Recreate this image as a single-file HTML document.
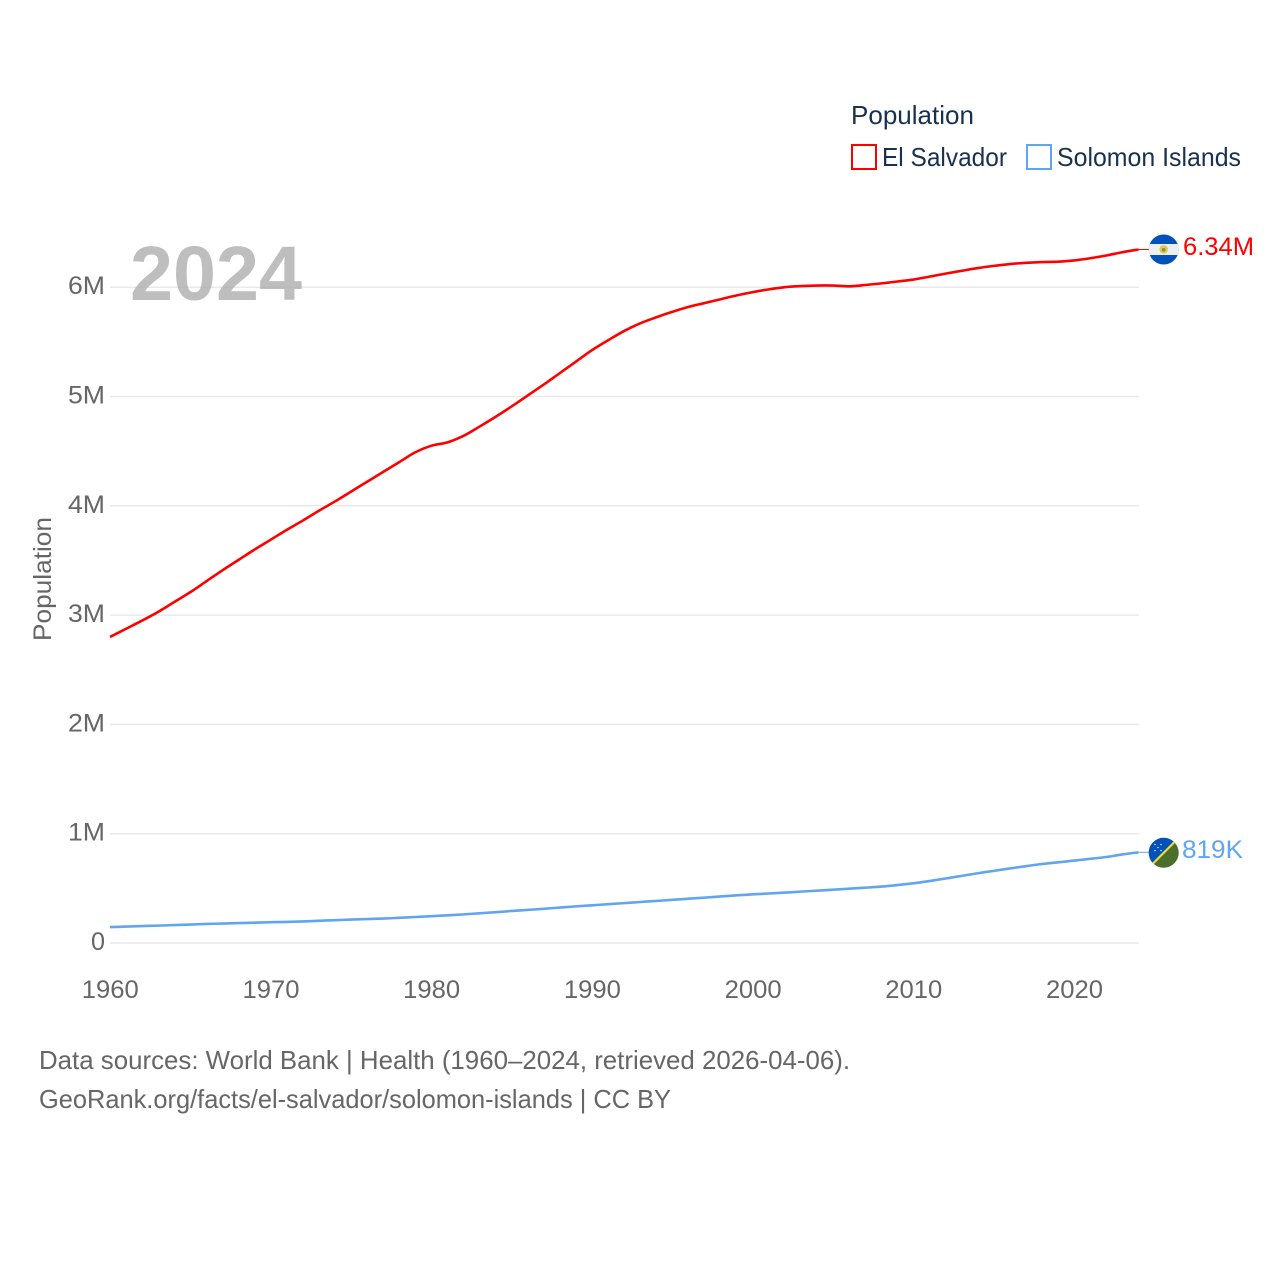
<!DOCTYPE html>
<html lang="en">
<head>
<meta charset="utf-8">
<title>Population: El Salvador and Solomon Islands</title>
<style>
html,body{margin:0;padding:0;background:#fff;width:1280px;height:1280px;overflow:hidden}
svg{display:block}
text{font-family:"Liberation Sans",sans-serif}
</style>
</head>
<body>
<svg id="chart" width="1280" height="1280" viewBox="0 0 1280 1280" xmlns="http://www.w3.org/2000/svg">
  <defs>
    <clipPath id="clip-sv"><circle cx="1163.7" cy="249.5" r="15"/></clipPath>
    <clipPath id="clip-sb"><circle cx="1163.7" cy="852.8" r="15"/></clipPath>
  </defs>
  <g id="grid"></g>
  <g id="y-ticks"></g>
  <g id="x-ticks"></g>
  <text x="130" y="300" font-size="77" font-weight="700" fill="#a8a8a8" fill-opacity="0.75" textLength="172" lengthAdjust="spacingAndGlyphs">2024</text>
  <text transform="translate(51,579) rotate(-90)" text-anchor="middle" font-size="25" fill="#666" textLength="124" lengthAdjust="spacingAndGlyphs">Population</text>
  <g id="series"></g>

  <g clip-path="url(#clip-sv)">
    <rect x="1148" y="234" width="32" height="32" fill="#0051ba"/>
    <rect x="1148" y="244" width="32" height="11" fill="#eeeeee"/>
    <circle cx="1163.7" cy="249.3" r="4.3" fill="#e8c65a"/>
    <circle cx="1163.7" cy="249.8" r="1.9" fill="#7c9c3c"/>
  </g>
  <g clip-path="url(#clip-sb)">
    <rect x="1148" y="837" width="32" height="32" fill="#4c6f2b"/>
    <polygon points="1148.7,837.8 1178.7,837.8 1148.7,867.8" fill="#0051ba"/>
    <line x1="1148.7" y1="867.8" x2="1178.7" y2="837.8" stroke="#f2d93a" stroke-width="2.2"/>
    <g fill="#dfe8f5">
      <circle cx="1155" cy="844.5" r="0.8"/><circle cx="1161" cy="844.5" r="0.8"/>
      <circle cx="1158" cy="847.5" r="0.8"/><circle cx="1155" cy="850.5" r="0.8"/><circle cx="1161" cy="850.5" r="0.8"/>
    </g>
  </g>
  <text x="1183" y="255" font-size="25" fill="#ff0000" textLength="71" lengthAdjust="spacingAndGlyphs">6.34M</text>
  <text x="1182" y="858" font-size="25" fill="#60a5ee" textLength="61" lengthAdjust="spacingAndGlyphs">819K</text>

  <g>
    <text x="851" y="124" font-size="26" fill="#18314f" textLength="123" lengthAdjust="spacingAndGlyphs">Population</text>
    <rect x="852" y="145" width="24" height="24" fill="#fff" stroke="#ff0000" stroke-width="2"/>
    <text x="882" y="166" font-size="26" fill="#18314f" textLength="125" lengthAdjust="spacingAndGlyphs">El Salvador</text>
    <rect x="1027" y="145" width="24" height="24" fill="#fff" stroke="#60a5ee" stroke-width="2"/>
    <text x="1057" y="166" font-size="26" fill="#18314f" textLength="184" lengthAdjust="spacingAndGlyphs">Solomon Islands</text>
  </g>

  <text x="39" y="1069" font-size="26" fill="#666" textLength="811" lengthAdjust="spacingAndGlyphs">Data sources: World Bank | Health (1960–2024, retrieved 2026-04-06).</text>
  <text x="39" y="1108" font-size="26" fill="#666" textLength="632" lengthAdjust="spacingAndGlyphs">GeoRank.org/facts/el-salvador/solomon-islands | CC BY</text>
</svg>
<script>
const startYear = 1960;
const elSalvador = [2.80,2.875,2.95,3.03,3.12,3.21,3.31,3.41,3.505,3.60,3.69,3.78,3.865,3.955,4.04,4.13,4.22,4.31,4.40,4.49,4.55,4.58,4.64,4.725,4.815,4.91,5.01,5.11,5.215,5.32,5.425,5.515,5.60,5.67,5.725,5.775,5.82,5.855,5.89,5.925,5.955,5.98,6.00,6.01,6.015,6.015,6.008,6.02,6.035,6.052,6.07,6.097,6.124,6.15,6.175,6.195,6.212,6.223,6.23,6.233,6.245,6.265,6.29,6.32,6.345];
const solomonIslands = [0.146,0.150,0.155,0.159,0.164,0.169,0.174,0.178,0.182,0.186,0.190,0.193,0.197,0.203,0.209,0.214,0.219,0.224,0.230,0.238,0.245,0.253,0.262,0.272,0.282,0.293,0.303,0.313,0.324,0.335,0.345,0.355,0.365,0.375,0.385,0.395,0.405,0.415,0.426,0.436,0.445,0.453,0.461,0.470,0.479,0.488,0.497,0.506,0.516,0.530,0.546,0.567,0.590,0.614,0.638,0.660,0.682,0.703,0.723,0.738,0.754,0.770,0.787,0.81,0.83];
const yTickValues = [0,1,2,3,4,5,6];
const yTickLabels = ["0","1M","2M","3M","4M","5M","6M"];
const xTickYears = [1960,1970,1980,1990,2000,2010,2020];

const NS = "http://www.w3.org/2000/svg";
function xScale(year){ return 110 + (year - 1960) * 16.07; }
function yScale(v){ return 943 - v * 109.3; }
function make(tag, attrs, parent, content){
  const el = document.createElementNS(NS, tag);
  for (const k in attrs) el.setAttribute(k, attrs[k]);
  if (content !== undefined) el.textContent = content;
  parent.appendChild(el);
  return el;
}
const gridG = document.getElementById("grid");
const yG = document.getElementById("y-ticks");
const xG = document.getElementById("x-ticks");
const seriesG = document.getElementById("series");

yTickValues.forEach(function(v, i){
  const gl = make("line", {x1:110, x2:1139, y1:yScale(v), y2:yScale(v), stroke:"#e9e9e9", "stroke-width":1.5}, gridG);
  
  
  const lab = make("text", {x:105, y:yScale(v)+7, "text-anchor":"end", "font-size":25, fill:"#666", textLength: yTickLabels[i].length > 1 ? 37 : 14, lengthAdjust:"spacingAndGlyphs"}, yG, yTickLabels[i]);
  
  
});
xTickYears.forEach(function(yr){
  const lab = make("text", {x:xScale(yr)+0.3, y:998, "text-anchor":"middle", "font-size":25, fill:"#666", textLength:57, lengthAdjust:"spacingAndGlyphs"}, xG, String(yr));
  
  
});
function linePath(values){
  const pts = values.map(function(v, i){ return [xScale(startYear + i), yScale(v)]; });
  let d = "M" + pts[0][0].toFixed(2) + " " + pts[0][1].toFixed(2);
  for (let i = 0; i < pts.length - 1; i++) {
    const p0 = pts[Math.max(i - 1, 0)], p1 = pts[i], p2 = pts[i + 1], p3 = pts[Math.min(i + 2, pts.length - 1)];
    const c1x = p1[0] + (p2[0] - p0[0]) / 6, c1y = p1[1] + (p2[1] - p0[1]) / 6;
    const c2x = p2[0] - (p3[0] - p1[0]) / 6, c2y = p2[1] - (p3[1] - p1[1]) / 6;
    d += "C" + c1x.toFixed(2) + " " + c1y.toFixed(2) + " " + c2x.toFixed(2) + " " + c2y.toFixed(2) + " " + p2[0].toFixed(2) + " " + p2[1].toFixed(2);
  }
  return d;
}
const lineSv = make("path", {d:linePath(elSalvador), fill:"none", stroke:"#ff0000", "stroke-width":2.6, "stroke-linejoin":"round"}, seriesG);


const lineSb = make("path", {d:linePath(solomonIslands), fill:"none", stroke:"#60a5ee", "stroke-width":2.6, "stroke-linejoin":"round"}, seriesG);



const lastYear = startYear + elSalvador.length - 1;
const connSv = make("line", {x1:xScale(lastYear), x2:1149, y1:yScale(elSalvador[elSalvador.length-1]), y2:yScale(elSalvador[elSalvador.length-1]), stroke:"#ff0000", "stroke-width":1}, seriesG);


const connSb = make("line", {x1:xScale(lastYear), x2:1149, y1:yScale(solomonIslands[solomonIslands.length-1]), y2:yScale(solomonIslands[solomonIslands.length-1]), stroke:"#60a5ee", "stroke-width":1}, seriesG);


</script>
</body>
</html>
